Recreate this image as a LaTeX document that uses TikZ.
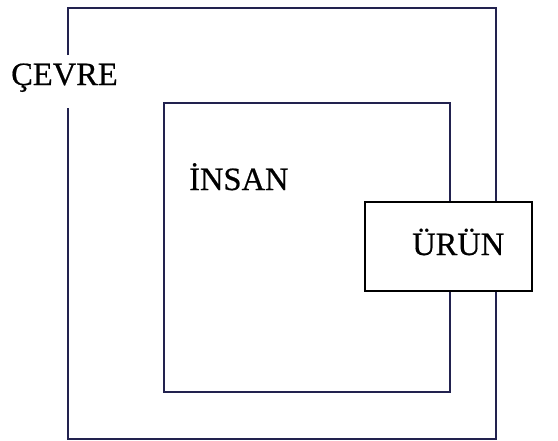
\documentclass[tikz,border=0pt]{standalone}
\usepackage{fontspec}
\setmainfont{Liberation Serif}
\newfontfamily\lblfont{Liberation Serif}[FakeBold=0.6]
\definecolor{linec}{HTML}{22224F}
\tikzset{
  frame/.style={draw=linec, line width=1.4pt},
  prodbox/.style={draw=black, line width=2.6pt, fill=white},
  lbl/.style={font=\lblfont\fontsize{32.5}{32.5}\selectfont, inner sep=0pt, anchor=base west, text=black}
}
\begin{document}
\begin{tikzpicture}[x=1pt,y=-1pt]
\useasboundingbox (0,0) rectangle (558,440);
% outer frame (environment), broken at the label
\coordinate (o1) at (68,55);
\coordinate (o2) at (68,108);
\draw[frame] (o1) -- (68,8) -- (496,8) -- (496,439) -- (68,439) -- (o2);
% inner frame (human)
\draw[frame] (164,103) rectangle (450,392);
% product box
\draw[prodbox] (365,202) rectangle (532,291);
\node[lbl] (cevre) at (11,85) {ÇEVRE};
\node[lbl] (insan) at (189,190) {İNSAN};
\node[lbl] (urun) at (412,255) {ÜRÜN};
\end{tikzpicture}
\end{document}
